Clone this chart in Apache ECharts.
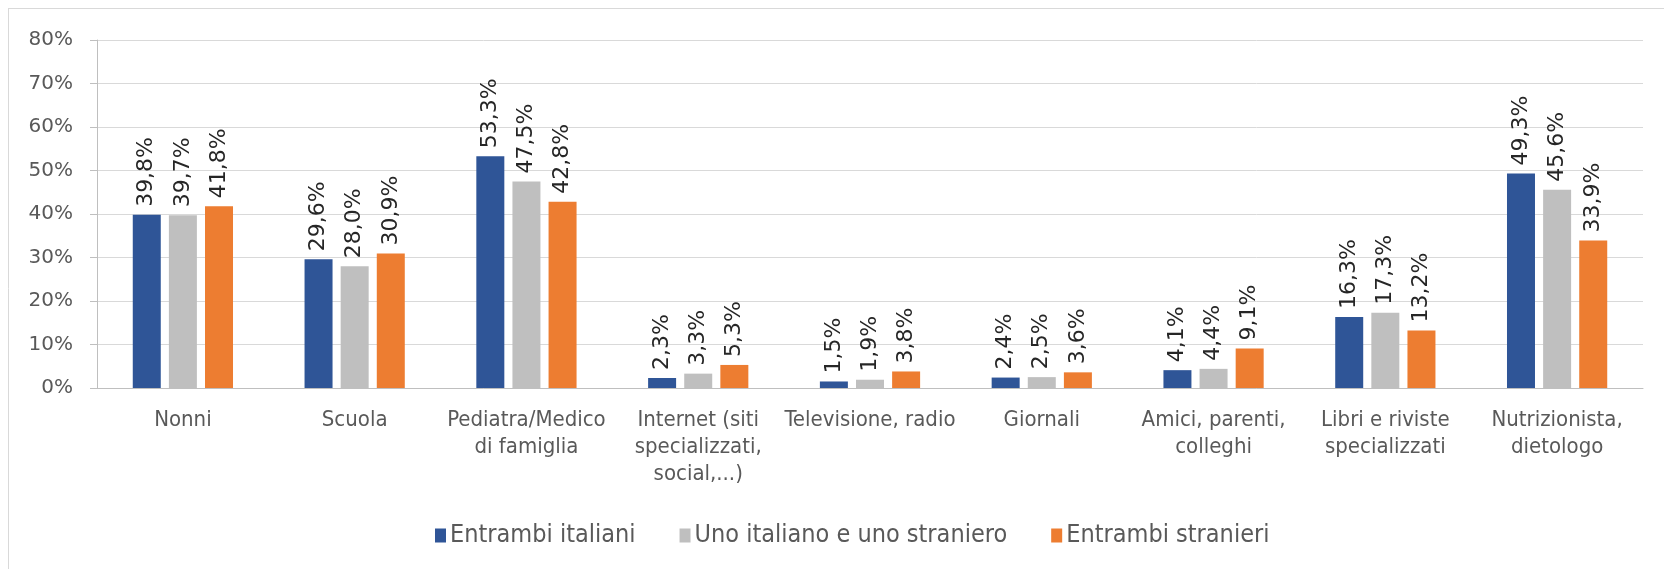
<!DOCTYPE html>
<html><head><meta charset="utf-8">
<script src="https://cdn.jsdelivr.net/npm/echarts@6/dist/echarts.min.js"></script>
<style>html,body{margin:0;padding:0;background:#fff}#c{width:1664px;height:569px}</style>
</head><body><div id="c"></div>
<script>
const categories = ["Nonni","Scuola","Pediatra/Medico\ndi famiglia","Internet (siti\nspecializzati,\nsocial,...)","Televisione, radio","Giornali","Amici, parenti,\ncolleghi","Libri e riviste\nspecializzati","Nutrizionista,\ndietologo"];
const seriesNames = ["Entrambi italiani","Uno italiano e uno straniero","Entrambi stranieri"];
const entrambiItaliani = [39.8,29.6,53.3,2.3,1.5,2.4,4.1,16.3,49.3];
const unoItalianoUnoStraniero = [39.7,28.0,47.5,3.3,1.9,2.5,4.4,17.3,45.6];
const entrambiStranieri = [41.8,30.9,42.8,5.3,3.8,3.6,9.1,13.2,33.9];
const yTicks = [0,10,20,30,40,50,60,70,80];
const colors = ["#2F5597","#BFBFBF","#ED7D31"];

const FONT = "'DejaVu Sans Condensed','DejaVu Sans',sans-serif";
const chart = echarts.init(document.getElementById('c'), null, {renderer:'canvas'});
function mk(name, data, i){
  return {
    name, type:'bar', data, barWidth:28, barGap:'29%',
    itemStyle:{color:colors[i]},
    label:{show:true, position:'top', rotate:90, align:'left', verticalAlign:'middle', distance:8,
      fontFamily:"'DejaVu Sans',sans-serif", fontSize:22, color:'#262626',
      formatter:p=>p.value.toFixed(1).replace('.',',')+'%'}
  };
}
chart.setOption({
  animation:false,
  color:colors,
  textStyle:{fontFamily:FONT},
  graphic:[
    {type:'line', shape:{x1:8,y1:8.5,x2:1664,y2:8.5}, style:{stroke:'#d9d9d9',lineWidth:1}},
    {type:'line', shape:{x1:8.5,y1:8,x2:8.5,y2:569}, style:{stroke:'#d9d9d9',lineWidth:1}}
  ],
  grid:{left:97, right:21, top:40, bottom:181},
  legend:{
    data:seriesNames, left:430, top:518, itemWidth:11, itemHeight:14, itemGap:44,
    icon:'rect',
    textStyle:{fontFamily:FONT, fontSize:25, color:'#595959', padding:[0,0,0,-1]}
  },
  xAxis:{
    type:'category', data:categories,
    axisLine:{lineStyle:{color:'#bfbfbf'}}, axisTick:{show:false},
    axisLabel:{interval:0, fontFamily:FONT, fontSize:22, color:'#595959', lineHeight:27, margin:19}
  },
  yAxis:{
    type:'value', min:0, max:80, interval:10,
    axisLine:{show:true, lineStyle:{color:'#bfbfbf'}},
    axisTick:{show:true, length:7, lineStyle:{color:'#bfbfbf'}},
    splitLine:{lineStyle:{color:'#d9d9d9'}},
    axisLabel:{fontFamily:"'DejaVu Sans',sans-serif", fontSize:20, color:'#595959', margin:24,
      formatter:v=> yTicks.includes(v) ? v+'%' : ''}
  },
  series:[mk(seriesNames[0],entrambiItaliani,0), mk(seriesNames[1],unoItalianoUnoStraniero,1), mk(seriesNames[2],entrambiStranieri,2)]
});
</script></body></html>
